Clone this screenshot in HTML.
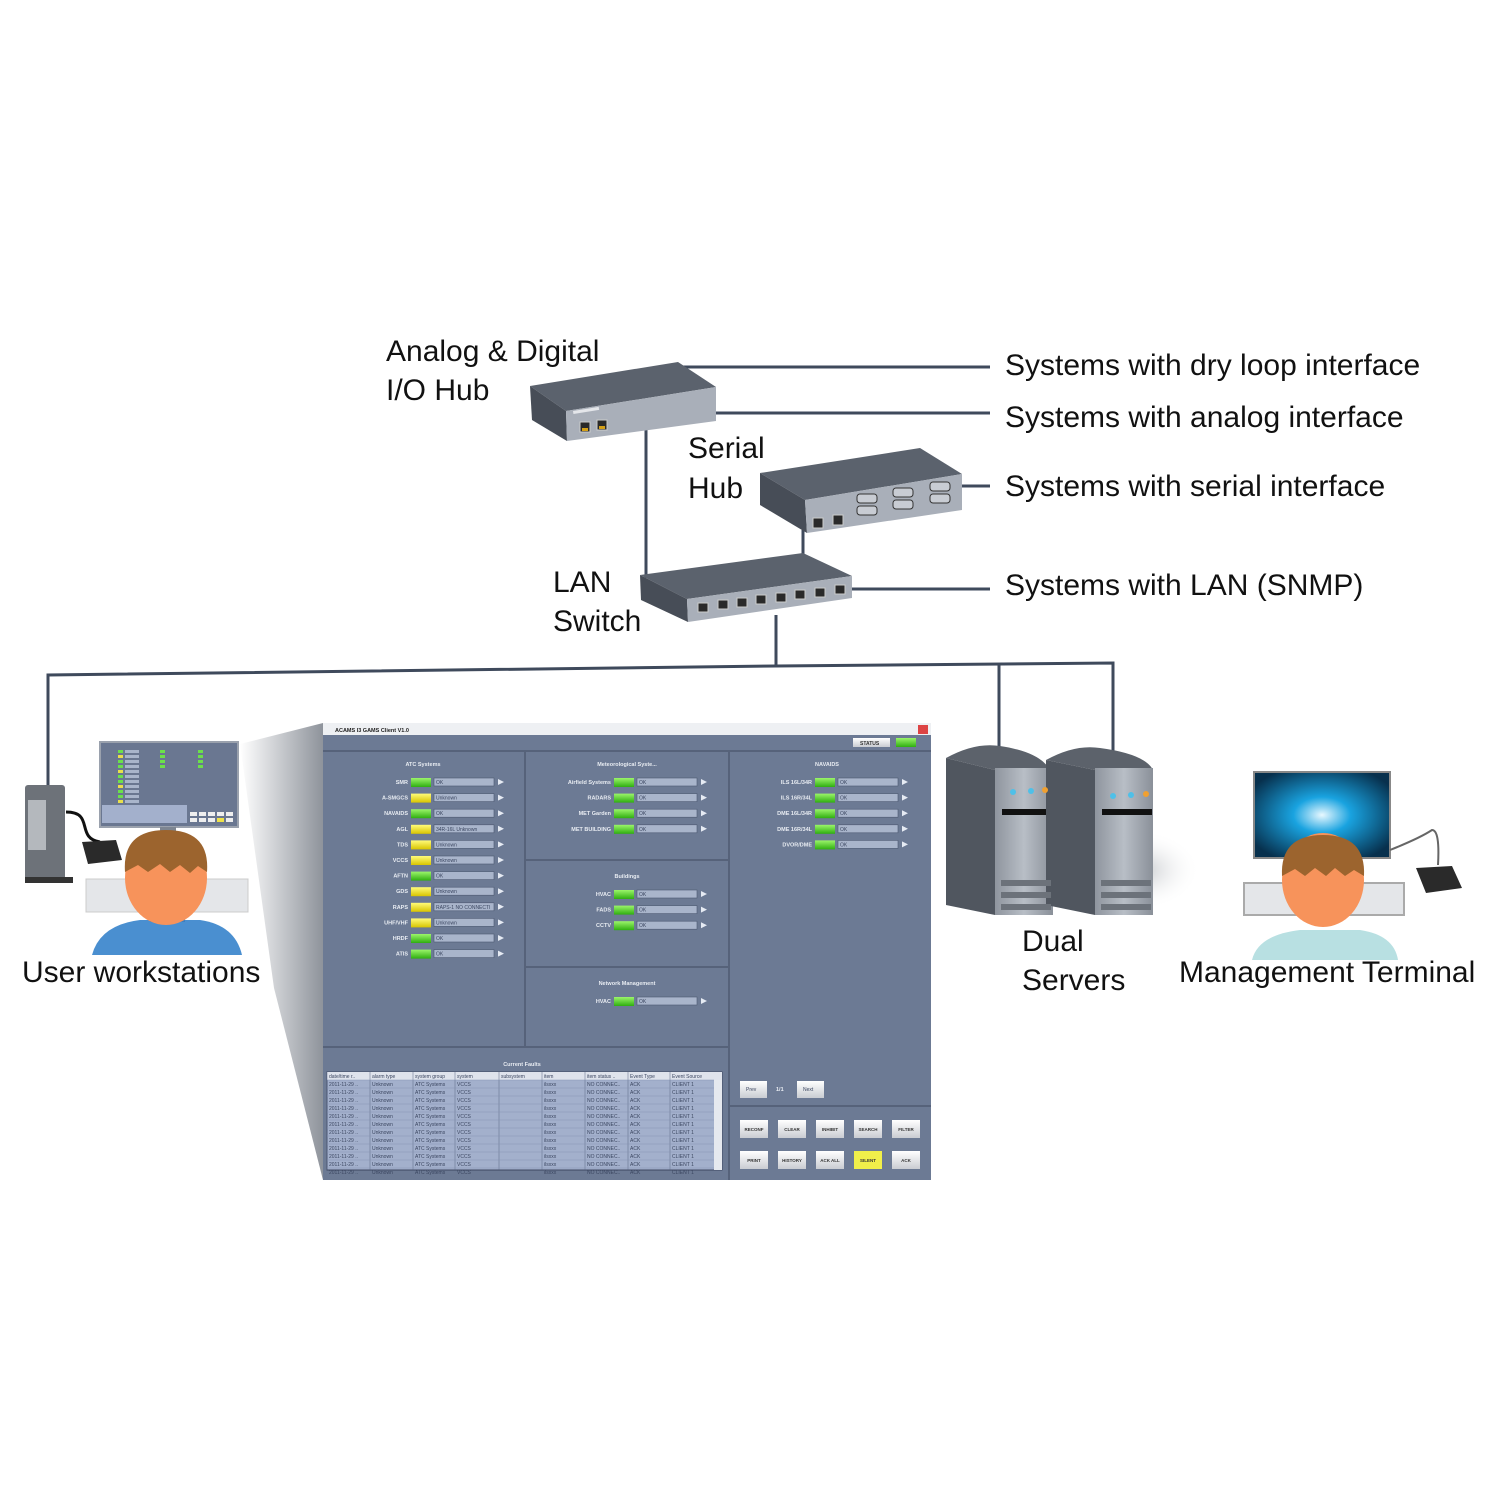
<!DOCTYPE html>
<html><head><meta charset="utf-8">
<style>
html,body{margin:0;padding:0;background:#fff;}
svg{display:block;}
.big{font-family:"Liberation Sans",sans-serif;font-size:30px;fill:#111;}
.s{font-family:"Liberation Sans",sans-serif;font-size:5.5px;fill:#e8ecf2;font-weight:bold;}
.f{font-family:"Liberation Sans",sans-serif;font-size:5px;fill:#3b4660;}
</style></head><body>
<svg id="g" width="1500" height="1500" viewBox="0 0 1500 1500" xmlns="http://www.w3.org/2000/svg">
<defs>
<linearGradient id="shade" x1="0" y1="0" x2="1" y2="0"><stop offset="0" stop-color="#fff"/><stop offset="1" stop-color="#8e939b"/></linearGradient>
<radialGradient id="scr" cx="0.5" cy="0.5" r="0.6"><stop offset="0" stop-color="#e8f8ff"/><stop offset="0.35" stop-color="#19a3e0"/><stop offset="1" stop-color="#07304d"/></radialGradient>
<linearGradient id="srv" x1="0" y1="0" x2="1" y2="0"><stop offset="0" stop-color="#8f959e"/><stop offset="0.5" stop-color="#b8bec6"/><stop offset="1" stop-color="#8a9099"/></linearGradient>
<radialGradient id="sh" cx="0.5" cy="0.5" r="0.5"><stop offset="0" stop-color="#c4c7cb"/><stop offset="1" stop-color="#fff" stop-opacity="0"/></radialGradient>
<linearGradient id="led" x1="0" y1="0" x2="0" y2="1"><stop offset="0" stop-color="#9bf56a"/><stop offset="1" stop-color="#2fae10"/></linearGradient>
<linearGradient id="ledy" x1="0" y1="0" x2="0" y2="1"><stop offset="0" stop-color="#fffb7a"/><stop offset="1" stop-color="#d8c400"/></linearGradient>
<linearGradient id="btn" x1="0" y1="0" x2="0" y2="1"><stop offset="0" stop-color="#fff"/><stop offset="1" stop-color="#c9ccd2"/></linearGradient>
</defs>

<g stroke="#3f4a5c" stroke-width="3" fill="none">
<line x1="678" y1="367" x2="990" y2="367"/>
<line x1="716" y1="413" x2="990" y2="413"/>
<line x1="962" y1="486" x2="990" y2="486"/>
<line x1="852" y1="589" x2="990" y2="589"/>
<line x1="646" y1="428" x2="646" y2="578"/>
<line x1="803" y1="530" x2="803" y2="556"/>
<line x1="776" y1="615" x2="776" y2="666"/>
<polyline points="48,790 48,675 776,666 1113,663 1113,755"/>
<line x1="999" y1="665" x2="999" y2="752"/>
</g>

<polygon points="530,386 678,362 716,387 566,411" fill="#5b626d"/>
<polygon points="530,386 566,411 567,441 532,420" fill="#474d57"/>
<polygon points="566,411 716,387 716,421 567,441" fill="#a9afb9"/>
<rect x="573" y="411" width="26" height="3" fill="#e4e6ea" transform="rotate(-9 573 411)"/>
<rect x="580" y="422" width="10" height="10" fill="#2a2a2a" stroke="#ccc"/><rect x="597" y="420" width="10" height="10" fill="#2a2a2a" stroke="#ccc"/>
<rect x="582" y="428" width="6" height="3" fill="#d4a017"/><rect x="599" y="426" width="6" height="3" fill="#d4a017"/>

<polygon points="760,473 920,448 962,474 805,500" fill="#5b626d"/>
<polygon points="760,473 805,500 807,533 760,505" fill="#474d57"/>
<polygon points="805,500 962,474 962,510 807,533" fill="#a9afb9"/>
<rect x="813" y="518" width="10" height="10" fill="#2a2a2a" stroke="#ccc"/><rect x="833" y="515" width="10" height="10" fill="#2a2a2a" stroke="#ccc"/>
<g fill="#c8ccd3" stroke="#333" stroke-width="1">
<rect x="857" y="494" width="20" height="9" rx="3"/><rect x="893" y="488" width="20" height="9" rx="3"/><rect x="930" y="482" width="20" height="9" rx="3"/>
<rect x="857" y="506" width="20" height="9" rx="3"/><rect x="893" y="500" width="20" height="9" rx="3"/><rect x="930" y="494" width="20" height="9" rx="3"/>
</g>

<polygon points="640,575 803,553 852,576 687,599" fill="#5b626d"/>
<polygon points="640,575 687,599 688,622 641,600" fill="#474d57"/>
<polygon points="687,599 852,576 852,598 688,622" fill="#a9afb9"/>
<g fill="#2a2a2a" stroke="#ccc"><rect x="698" y="603" width="10" height="9"/><rect x="718" y="600" width="10" height="9"/><rect x="737" y="598" width="10" height="9"/><rect x="756" y="595" width="10" height="9"/><rect x="776" y="593" width="10" height="9"/><rect x="795" y="590" width="10" height="9"/><rect x="815" y="588" width="10" height="9"/><rect x="835" y="585" width="10" height="9"/></g>

<text class="big" x="386" y="361">Analog &amp; Digital</text>
<text class="big" x="386" y="400">I/O Hub</text>
<text class="big" x="688" y="458">Serial</text>
<text class="big" x="688" y="498">Hub</text>
<text class="big" x="553" y="592">LAN</text>
<text class="big" x="553" y="631">Switch</text>
<text class="big" x="1005" y="375">Systems with dry loop interface</text>
<text class="big" x="1005" y="427">Systems with analog interface</text>
<text class="big" x="1005" y="496">Systems with serial interface</text>
<text class="big" x="1005" y="595">Systems with LAN (SNMP)</text>
<text class="big" x="22" y="982">User workstations</text>
<text class="big" x="1022" y="951">Dual</text>
<text class="big" x="1022" y="990">Servers</text>
<text class="big" x="1179" y="982">Management Terminal</text>

<polygon points="240,744 323,723 323,1180 274,988" fill="url(#shade)"/>

<rect x="25" y="785" width="40" height="95" rx="3" fill="#6d7279"/>
<rect x="28" y="800" width="18" height="50" fill="#b4b8bd"/>
<rect x="25" y="877" width="48" height="6" fill="#333"/>
<path d="M66,812 C95,812 75,838 100,842" stroke="#111" stroke-width="3" fill="none"/>
<path d="M82,842 L116,840 L122,860 L88,864 Z" fill="#2a2a2a"/>
<rect x="100" y="742" width="138" height="85" fill="#6a7791" stroke="#9aa1ad" stroke-width="2"/>
<rect x="160" y="827" width="16" height="10" fill="#7d8591"/>
<rect x="86" y="879" width="162" height="33" fill="#e4e6e9" stroke="#ccc"/>
<path d="M92,955 Q100,925 140,920 L200,920 Q235,925 242,955 Z" fill="#4a8fd0"/>
<rect x="150" y="912" width="35" height="10" fill="#3b7fc0"/>
<ellipse cx="166" cy="878" rx="41" ry="47" fill="#f7935b"/>
<path d="M125,872 Q122,830 166,830 Q210,830 207,872 L198,866 190,873 180,865 170,872 160,864 148,872 138,865 Z" fill="#9c642e"/>
<g id="mini"></g>

<ellipse cx="1140" cy="870" rx="60" ry="40" fill="url(#sh)"/>
<path d="M946,758 Q975,742 1000,746 Q1040,752 1050,770 L995,770 Z" fill="#5c626b"/>
<polygon points="946,758 995,770 995,915 946,905" fill="#50565f"/>
<rect x="995" y="768" width="58" height="147" fill="url(#srv)"/>
<rect x="1002" y="809" width="50" height="6" fill="#111"/>
<path d="M1046,760 Q1075,744 1100,748 Q1145,754 1153,770 L1095,770 Z" fill="#5c626b"/>
<polygon points="1046,760 1095,770 1095,915 1046,905" fill="#50565f"/>
<rect x="1095" y="768" width="58" height="147" fill="url(#srv)"/>
<rect x="1102" y="809" width="50" height="6" fill="#111"/>
<g fill="#6c727a"><rect x="1001" y="880" width="50" height="6"/><rect x="1001" y="892" width="50" height="6"/><rect x="1001" y="904" width="50" height="6"/><rect x="1101" y="880" width="50" height="6"/><rect x="1101" y="892" width="50" height="6"/><rect x="1101" y="904" width="50" height="6"/></g>
<g fill="#4ec0e8"><circle cx="1013" cy="792" r="3"/><circle cx="1031" cy="791" r="3"/><circle cx="1113" cy="796" r="3"/><circle cx="1131" cy="795" r="3"/></g>
<g fill="#f0a030"><circle cx="1045" cy="790" r="3"/><circle cx="1146" cy="794" r="3"/></g>

<rect x="1254" y="772" width="136" height="86" fill="url(#scr)" stroke="#888" stroke-width="2"/>
<path d="M1390,850 Q1420,838 1432,830 Q1440,830 1438,865" stroke="#666" stroke-width="2" fill="none"/>
<path d="M1416,868 L1452,866 L1462,888 L1426,893 Z" fill="#2a2a2a"/>
<rect x="1244" y="883" width="160" height="32" fill="#e4e6e9" stroke="#aaa" stroke-width="2"/>
<path d="M1252,960 Q1258,935 1300,930 L1360,930 Q1394,935 1398,960 Z" fill="#b8e0e2"/>
<ellipse cx="1323" cy="880" rx="41" ry="47" fill="#f7935b"/>
<path d="M1282,876 Q1280,835 1323,835 Q1366,835 1364,876 L1354,870 1345,876 1335,868 1326,876 1315,868 1305,876 1295,869 Z" fill="#9c642e"/>

<rect x="323" y="723" width="608" height="457" fill="#6c7a94"/>
<rect x="323" y="723" width="608" height="12" fill="#eef0f3"/>
<text x="335" y="732" style="font:bold 5.5px 'Liberation Sans',sans-serif" fill="#222">ACAMS I3 GAMS Client V1.0</text>
<rect x="918" y="725" width="10" height="9" fill="#d44"/>
<rect x="853" y="738" width="37" height="9" fill="url(#btn)"/><text x="860" y="745" style="font:bold 5px 'Liberation Sans',sans-serif" fill="#333">STATUS</text>
<rect x="896" y="738" width="20" height="9" fill="url(#led)"/>
<g stroke="#56627a" stroke-width="2" fill="none">
<line x1="323" y1="751" x2="931" y2="751"/>
<line x1="525" y1="751" x2="525" y2="1047"/>
<line x1="729" y1="751" x2="729" y2="1180"/>
<line x1="525" y1="860" x2="729" y2="860"/>
<line x1="525" y1="967" x2="729" y2="967"/>
<line x1="323" y1="1047" x2="729" y2="1047"/>
<line x1="729" y1="1106" x2="931" y2="1106"/>
</g>
<g id="rows"></g>
<text class="s" x="423" y="766" text-anchor="middle">ATC Systems</text>
<text class="s" x="627" y="766" text-anchor="middle">Meteorological Syste...</text>
<text class="s" x="827" y="766" text-anchor="middle">NAVAIDS</text>
<text class="s" x="627" y="878" text-anchor="middle">Buildings</text>
<text class="s" x="627" y="985" text-anchor="middle">Network Management</text>
<text class="s" x="522" y="1066" text-anchor="middle">Current Faults</text>
<rect x="327" y="1072" width="395" height="98" fill="#a3b0cc" stroke="#3c4660"/>
<rect x="327" y="1072" width="395" height="8" fill="#dfe3ec"/>
<g id="tbl"></g>
<rect x="740" y="1081" width="27" height="17" fill="url(#btn)"/><text x="746" y="1091" class="f">Prev</text>
<text x="776" y="1091" class="s">1/1</text>
<rect x="797" y="1081" width="27" height="17" fill="url(#btn)"/><text x="803" y="1091" class="f">Next</text>
<g id="btns"></g>
</svg>
<script>
var NS="http://www.w3.org/2000/svg";
function el(p,t,a,txt){var e=document.createElementNS(NS,t);for(var k in a)e.setAttribute(k,a[k]);if(txt)e.textContent=txt;document.getElementById(p).appendChild(e);return e;}
function row(lx,y,name,col,val){
 el("rows","text",{"class":"s",x:lx-3,y:y+2,"text-anchor":"end"},name);
 el("rows","rect",{x:lx,y:y-4,width:20,height:9,fill:col=="y"?"url(#ledy)":"url(#led)"});
 el("rows","rect",{x:lx+23,y:y-4,width:60,height:8,fill:"#a9b5cb",stroke:"#4c5870","stroke-width":0.6});
 el("rows","text",{"class":"f",x:lx+25,y:y+2},val);
 el("rows","polygon",{points:(lx+87)+","+(y-3)+" "+(lx+93)+","+y+" "+(lx+87)+","+(y+3),fill:"#e6ebf3"});
}
var atc=[["SMR","g","OK"],["A-SMGCS","y","Unknown"],["NAVAIDS","g","OK"],["AGL","y","34R-16L Unknown"],["TDS","y","Unknown"],["VCCS","y","Unknown"],["AFTN","g","OK"],["GDS","y","Unknown"],["RAPS","y","RAPS-1 NO CONNECTI"],["UHF/VHF","y","Unknown"],["HRDF","g","OK"],["ATIS","g","OK"]];
atc.forEach(function(r,i){row(411,782+i*15.6,r[0],r[1],r[2]);});
["Airfield Systems","RADARS","MET Garden","MET BUILDING"].forEach(function(n,i){row(614,782+i*15.6,n,"g","OK");});
["HVAC","FADS","CCTV"].forEach(function(n,i){row(614,894+i*15.6,n,"g","OK");});
row(614,1001,"HVAC","g","OK");
["ILS 16L/34R","ILS 16R/34L","DME 16L/34R","DME 16R/34L","DVOR/DME"].forEach(function(n,i){row(815,782+i*15.6,n,"g","OK");});
var hd=["date/time r..","alarm type","system group","system","subsystem","item","item status ..","Event Type","Event Source"],cx=[327,370,413,455,499,542,585,628,670];
hd.forEach(function(h,i){el("tbl","text",{"class":"f",x:cx[i]+2,y:1078,fill:"#223"},h);el("tbl","line",{x1:cx[i],y1:1072,x2:cx[i],y2:1170,stroke:"#5a6683","stroke-width":0.5});});
for(var r=0;r<12;r++){var y=1080+r*8;el("tbl","line",{x1:327,y1:y,x2:714,y2:y,stroke:"#8794b2","stroke-width":0.5});
 ["2011-11-29 ..","Unknown","ATC Systems","VCCS","","ilsxxx","NO CONNEC..","ACK","CLIENT 1"].forEach(function(t,i){el("tbl","text",{"class":"f",x:cx[i]+2,y:y+6,fill:"#dde3ee"},t);});}
el("tbl","rect",{x:714,y:1080,width:8,height:90,fill:"#e6e9ef"});
var b=[["RECONF","CLEAR","INHIBIT","SEARCH","FILTER"],["PRINT","HISTORY","ACK ALL","SILENT","ACK"]];
b.forEach(function(rw,j){rw.forEach(function(t,i){var x=740+i*38,y=1120+j*31;el("btns","rect",{x:x,y:y,width:28,height:18,fill:t=="SILENT"?"#f1ef4a":"url(#btn)"});el("btns","text",{x:x+14,y:y+11,"text-anchor":"middle",style:"font:bold 4.5px 'Liberation Sans',sans-serif",fill:"#333"},t);});});
for(var k=0;k<12;k++){el("mini","rect",{x:118,y:750+k*5,width:5,height:3,fill:k%3==1?"#e8e04a":"#6ce04a"});el("mini","rect",{x:125,y:750+k*5,width:14,height:3,fill:"#a9b5cb"});}
for(var k=0;k<4;k++){el("mini","rect",{x:160,y:750+k*5,width:5,height:3,fill:"#6ce04a"});el("mini","rect",{x:198,y:750+k*5,width:5,height:3,fill:"#6ce04a"});}
el("mini","rect",{x:102,y:805,width:85,height:18,fill:"#a3b0cc"});
for(var k=0;k<5;k++){el("mini","rect",{x:190+k*9,y:812,width:7,height:4,fill:"#eee"});el("mini","rect",{x:190+k*9,y:818,width:7,height:4,fill:k==3?"#eee24a":"#eee"});}
</script>
</body></html>
